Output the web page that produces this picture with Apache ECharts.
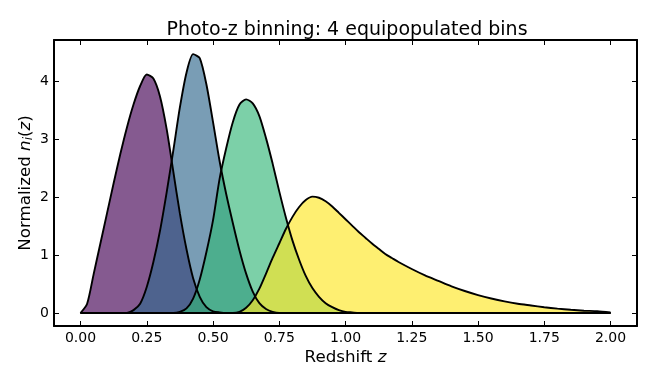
<!DOCTYPE html>
<html>
<head>
<meta charset="utf-8">
<script src="https://cdn.jsdelivr.net/npm/echarts@6/dist/echarts.min.js"></script>
<style>html,body{margin:0;padding:0;background:#fff}#c{width:656px;height:384px}</style>
</head>
<body>
<div id="c"></div>
<script>
// Redshift grid (z) shared by all bins
const zGrid = [
  0.000,0.025,0.050,0.075,0.100,0.125,0.150,0.175,0.200,0.225,
  0.250,0.275,0.300,0.325,0.350,0.375,0.400,0.425,0.450,0.475,
  0.500,0.525,0.550,0.575,0.600,0.625,0.650,0.675,0.700,0.725,
  0.750,0.775,0.800,0.825,0.850,0.875,0.900,0.925,0.950,0.975,
  1.000,1.025,1.050,1.075,1.100,1.125,1.150,1.175,1.200,
  1.25,1.30,1.35,1.40,1.45,1.50,1.55,1.60,1.65,1.70,1.75,1.80,1.85,1.90,1.95,2.00
];
const bin1 = [
  0.00,0.16,0.68,1.20,1.72,2.24,2.74,3.20,3.60,3.92,
  4.12,4.05,3.74,3.18,2.45,1.72,1.10,0.60,0.28,0.10,
  0.03,0.01,0,0,0,0,0,0,0,0,
  0,0,0,0,0,0,0,0,0,0,
  0,0,0,0,0,0,0,0,0,
  0,0,0,0,0,0,0,0,0,0,0,0,0,0,0,0
];
const bin2 = [
  0,0,0,0,0,0,0,0,0.05,0.16,
  0.45,0.88,1.42,2.08,2.80,3.55,4.15,4.47,4.40,3.95,
  3.30,2.62,2.05,1.55,1.08,0.68,0.37,0.17,0.07,0.02,
  0,0,0,0,0,0,0,0,0,0,
  0,0,0,0,0,0,0,0,0,
  0,0,0,0,0,0,0,0,0,0,0,0,0,0,0,0
];
const bin3 = [
  0,0,0,0,0,0,0,0,0,0,
  0,0,0,0,0,0.02,0.08,0.25,0.58,1.05,
  1.60,2.32,2.85,3.30,3.60,3.69,3.62,3.40,3.02,2.58,
  2.10,1.65,1.25,0.92,0.64,0.43,0.28,0.17,0.10,0.05,
  0.02,0.01,0,0,0,0,0,0,0,
  0,0,0,0,0,0,0,0,0,0,0,0,0,0,0,0
];
const bin4 = [
  0,0,0,0,0,0,0,0,0,0,
  0,0,0,0,0,0,0,0,0,0,
  0,0,0,0,0.02,0.09,0.22,0.42,0.68,0.95,
  1.20,1.45,1.66,1.83,1.95,2.01,1.99,1.93,1.84,1.73,
  1.62,1.51,1.40,1.30,1.20,1.11,1.02,0.95,0.88,
  0.76,0.65,0.555,0.46,0.38,0.31,0.25,0.20,0.16,0.13,0.10,0.075,0.055,0.04,0.03,0.01
];
const xTicks = [0,0.25,0.5,0.75,1.0,1.25,1.5,1.75,2.0];
const yTicks = [0,1,2,3,4];
const binColors = ['#440154','#31688e','#35b779','#fde725'];
const binNames = ['Bin 1','Bin 2','Bin 3','Bin 4'];
const binValues = [bin1,bin2,bin3,bin4];

const FONT = 'DejaVu Sans';
const chart = echarts.init(document.getElementById('c'), null, {renderer:'canvas'});

function xAxisCfg(pos, showLabel){
  return {
    type:'value', position:pos, min:-0.1, max:2.1,
    axisLine:{show:true, onZero:false, lineStyle:{color:'#000', width:2}},
    axisTick:{show:true, inside:true, length:5, customValues:xTicks, lineStyle:{color:'#000', width:1}},
    axisLabel:{show:showLabel, customValues:xTicks, margin:5, color:'#000', fontFamily:FONT, fontSize:14,
      formatter:v=>v.toFixed(2)},
    splitLine:{show:false}
  };
}
function yAxisCfg(pos, showLabel){
  return {
    type:'value', position:pos, min:-0.2245, max:4.7145,
    axisLine:{show:true, onZero:false, lineStyle:{color:'#000', width:2}},
    axisTick:{show:true, inside:true, length:5, customValues:yTicks, lineStyle:{color:'#000', width:1}},
    axisLabel:{show:showLabel, customValues:yTicks, margin:5, color:'#000', fontFamily:FONT, fontSize:14,
      formatter:v=>String(Math.round(v))},
    splitLine:{show:false}
  };
}
const xBottom = xAxisCfg('bottom', true);
xBottom.name = '{a|Redshift }{i|z}';
xBottom.nameLocation = 'middle';
xBottom.nameGap = 23;
xBottom.nameMoveOverlap = false;
xBottom.nameTextStyle = {rich:{
  a:{fontFamily:FONT, fontSize:16.7, color:'#000'},
  i:{fontFamily:FONT, fontSize:16.7, fontStyle:'italic', color:'#000'}
}};
const yLeft = yAxisCfg('left', true);
yLeft.name = '{a|Normalized }{i|n}{s|i}{a|(}{i|z}{a|)}';
yLeft.nameLocation = 'middle';
yLeft.nameGap = 19;
yLeft.nameRotate = 90;
yLeft.nameMoveOverlap = false;
yLeft.nameTextStyle = {rich:{
  a:{fontFamily:FONT, fontSize:16.7, color:'#000'},
  i:{fontFamily:FONT, fontSize:16.7, fontStyle:'italic', color:'#000'},
  s:{fontFamily:FONT, fontSize:12, fontStyle:'italic', color:'#000', padding:[7,0,0,0]}
}};

const fills = binValues.map((vals,i)=>({
  name: binNames[i], type:'line', xAxisIndex:0, yAxisIndex:0,
  data: zGrid.map((z,k)=>[z, vals[k]]),
  showSymbol:false, symbol:'none', smooth:0.25,
  lineStyle:{width:0, opacity:0},
  areaStyle:{color:binColors[i], opacity:0.65},
  z: 2, animation:false, silent:true
}));
const lines = binValues.map((vals,i)=>({
  name: binNames[i] + ' line', type:'line', xAxisIndex:0, yAxisIndex:0,
  data: zGrid.map((z,k)=>[z, vals[k]]),
  showSymbol:false, symbol:'none', smooth:0.25,
  lineStyle:{color:'#000', width:1.9},
  z: 5, animation:false, silent:true
}));

chart.setOption({
  backgroundColor:'#fff',
  animation:false,
  title:{text:'Photo-z binning: 4 equipopulated bins', left:342, top:16, textAlign:'center',
    textStyle:{fontFamily:FONT, fontSize:19, fontWeight:'normal', color:'#000'}},
  grid:{left:54, right:19, top:40, bottom:58, containLabel:false},
  xAxis:[xBottom, xAxisCfg('top', false)],
  yAxis:[yLeft, yAxisCfg('right', false)],
  series: fills.concat(lines)
});
</script>
</body>
</html>
